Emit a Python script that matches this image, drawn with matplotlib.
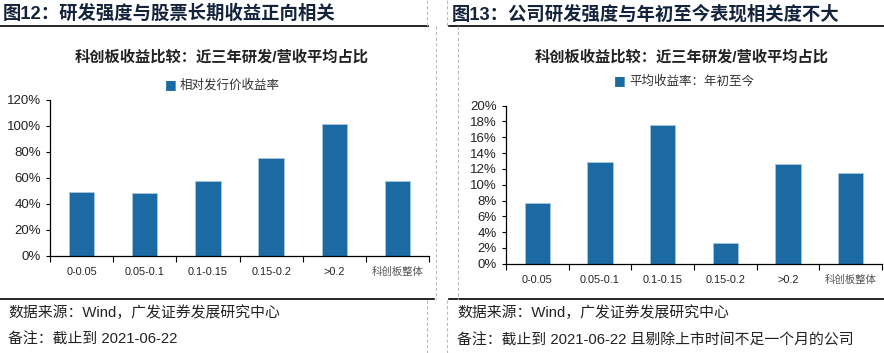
import matplotlib
matplotlib.use('Agg')
import matplotlib.pyplot as plt
from matplotlib.lines import Line2D
from matplotlib.ticker import FuncFormatter

plt.rcParams['font.family'] = ['Liberation Sans', 'Noto Sans CJK SC', 'DejaVu Sans']

# Data
categories = ['0-0.05', '0.05-0.1', '0.1-0.15', '0.15-0.2', '>0.2', '科创板整体']
ret_since_ipo = [49.0, 48.5, 57.4, 75.1, 101.5, 57.7]   # %
ret_ytd = [7.65, 12.85, 17.55, 2.62, 12.6, 11.48]        # %

headings = ['图12：研发强度与股票长期收益正向相关', '图13：公司研发强度与年初至今表现相关度不大']
chart_title = '科创板收益比较：近三年研发/营收平均占比'
legend_labels = ['相对发行价收益率', '平均收益率：年初至今']
source = '数据来源：Wind，广发证券发展研究中心'
notes = ['备注：截止到 2021-06-22', '备注：截止到 2021-06-22 且剔除上市时间不足一个月的公司']

W, H = 884, 353
bar_color = '#1B6AA3'
head_color = '#14233C'

fig = plt.figure(figsize=(W / 100, H / 100), dpi=100)


def fx(px):
    return px / W


def fy(py):
    return 1 - py / H


def draw_panel(x0, x1, axes_box, values, ymax, ystep, heading, legend_label, note, title_x, legend_x, legend_y):
    # heading + rule lines
    fig.text(fx(x0 + 3), fy(14), heading, fontsize=13.2, fontweight='bold',
             color=head_color, va='center', ha='left')
    fig.add_artist(Line2D([fx(x0), fx(x1)], [fy(26), fy(26)], color='black', lw=1.2))
    fig.add_artist(Line2D([fx(x0), fx(x1 + 6)], [fy(299), fy(299)], color='black', lw=1.2))

    # chart title and legend
    fig.text(fx(title_x), fy(57), chart_title, fontsize=11, fontweight='bold',
             color='#222222', ha='center', va='center')
    fig.text(fx(legend_x), fy(legend_y), '■', fontsize=9, color=bar_color,
             ha='right', va='center', family='DejaVu Sans')
    fig.text(fx(legend_x + 3), fy(legend_y), legend_label, fontsize=9, color='#333333',
             ha='left', va='center')

    # footer
    fig.text(fx(x0 + 8), fy(313), source, fontsize=10.7, color='#222222', va='center')
    fig.text(fx(x0 + 8), fy(340), note, fontsize=10.7, color='#222222', va='center')

    ax = fig.add_axes(axes_box)
    x = range(len(categories))
    ax.bar(x, values, width=0.4, color=bar_color, edgecolor='#A8C6DE', linewidth=0.6)
    ax.set_xlim(-0.5, len(categories) - 0.5)
    ax.set_ylim(0, ymax)
    ax.set_yticks([v for v in range(0, ymax + 1, ystep)])
    ax.yaxis.set_major_formatter(FuncFormatter(lambda v, p: f'{v:.0f}%'))
    ax.set_xticks(list(x))
    ax.set_xticklabels(categories, fontsize=7.8, color='#222222')
    ax.set_xticks([i - 0.5 for i in range(len(categories) + 1)], minor=True)
    ax.tick_params(axis='x', which='major', length=0, pad=8)
    ax.tick_params(axis='x', which='minor', length=4, direction='out', width=0.8)
    ax.tick_params(axis='y', length=3, width=0.8, labelsize=9.5, labelcolor='#222222')
    for s in ['top', 'right']:
        ax.spines[s].set_visible(False)
    for s in ['left', 'bottom']:
        ax.spines[s].set_linewidth(0.9)
    for lab in ax.get_xticklabels():
        if lab.get_text() == '科创板整体':
            lab.set_color('#555555')
            lab.set_fontsize(7.5)
    return ax


draw_panel(0, 428, [fx(50), fy(256), fx(379), (256 - 100) / H],
           ret_since_ipo, 120, 20, headings[0], legend_labels[0], notes[0], 222, 177, 85)
draw_panel(449, 884, [fx(506), fy(263.7), fx(376), (263.7 - 105.7) / H],
           ret_ytd, 20, 2, headings[1], legend_labels[1], notes[1], 682, 626, 81)

# dashed page separators
for xs, y0, y1 in [(427, 0, 26), (436, 26, 300), (427, 300, 353),
                   (447, 0, 26), (458, 26, 300), (447, 300, 353)]:
    fig.add_artist(Line2D([fx(xs), fx(xs)], [fy(y0), fy(y1)], color='#BBBBBB',
                          lw=0.8, ls=(0, (3, 2))))

fig.savefig('out.png', dpi=100)
